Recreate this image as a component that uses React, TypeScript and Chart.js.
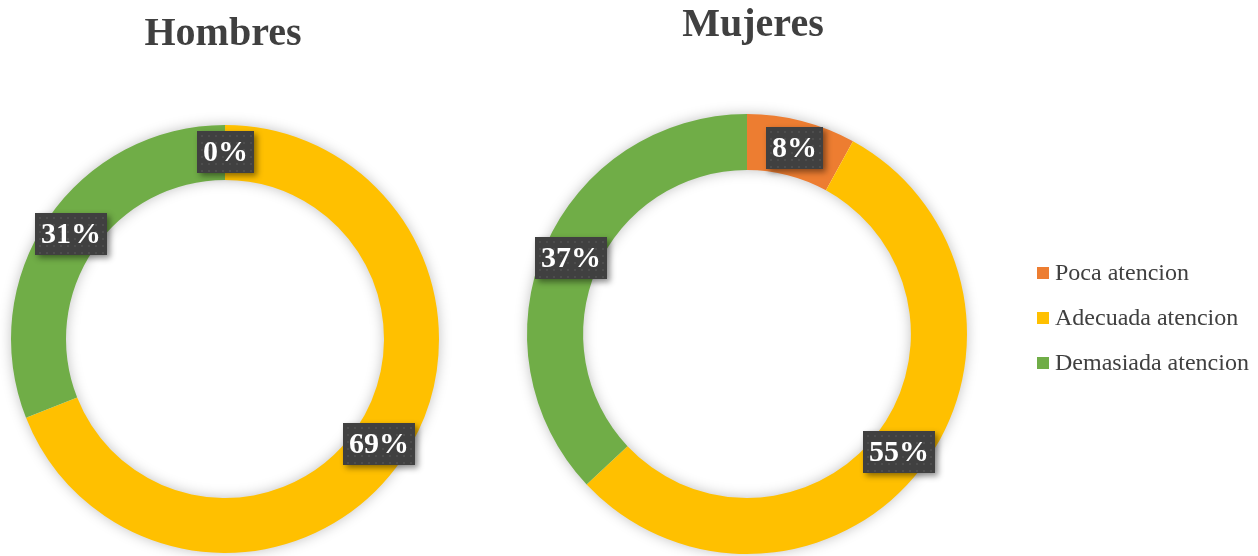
import React, { useEffect, useRef } from "react";
import { Chart, registerables } from "chart.js";

Chart.register(...registerables);

const categories = ["Poca atencion", "Adecuada atencion", "Demasiada atencion"];
const hombresValues = [0, 69, 31];
const mujeresValues = [8, 55, 37];
const sliceColors = ["#ED7D31", "#FFC000", "#70AD47"];
const chartTitles = ["Hombres", "Mujeres"];

const SERIF = '"Liberation Serif", "Times New Roman", serif';

type Opts = {
  title: string;
  titleX: number;
  titleY: number;
  legend: boolean;
  legendX: number;
  legendY: number;
};

function makePlugin(o: Opts) {
  return {
    id: "customDecor",
    beforeDatasetsDraw(chart: any) {
      const ctx = chart.ctx;
      const meta = chart.getDatasetMeta(0);
      const arc = meta.data[0];
      if (!arc) return;
      const { x, y, outerRadius, innerRadius } = arc.getProps(
        ["x", "y", "outerRadius", "innerRadius"],
        true
      );
      ctx.save();
      ctx.beginPath();
      ctx.arc(x, y, outerRadius - 1, 0, Math.PI * 2);
      ctx.moveTo(x + innerRadius + 1, y);
      ctx.arc(x, y, innerRadius + 1, 0, Math.PI * 2, true);
      ctx.closePath();
      ctx.shadowColor = "rgba(0,0,0,0.28)";
      ctx.shadowBlur = 14;
      ctx.fillStyle = "#ffffff";
      ctx.fill();
      ctx.restore();
    },
    afterDatasetsDraw(chart: any) {
      const ctx = chart.ctx;
      const meta = chart.getDatasetMeta(0);
      const data = chart.data.datasets[0].data as number[];
      meta.data.forEach((arc: any, i: number) => {
        const { x, y, startAngle, endAngle, outerRadius, innerRadius } = arc.getProps(
          ["x", "y", "startAngle", "endAngle", "outerRadius", "innerRadius"],
          true
        );
        const mid = (startAngle + endAngle) / 2;
        const r = (outerRadius + innerRadius) / 2;
        const cx = x + Math.cos(mid) * r;
        const cy = y + Math.sin(mid) * r;
        const text = `${data[i]}%`;
        ctx.save();
        ctx.font = `bold 30px ${SERIF}`;
        const tw = ctx.measureText(text).width;
        const w = Math.round(tw + 12);
        const h = 42;
        const bx = Math.round(cx - w / 2);
        const by = Math.round(cy - h / 2);
        ctx.shadowColor = "rgba(0,0,0,0.45)";
        ctx.shadowBlur = 6;
        ctx.shadowOffsetX = 3;
        ctx.shadowOffsetY = 3;
        ctx.fillStyle = "#404040";
        ctx.fillRect(bx, by, w, h);
        ctx.shadowColor = "transparent";
        ctx.shadowBlur = 0;
        ctx.shadowOffsetX = 0;
        ctx.shadowOffsetY = 0;
        ctx.fillStyle = "rgba(255,255,255,0.07)";
        for (let dx = 4; dx < w - 1; dx += 7) {
          for (let dy = 4; dy < h - 1; dy += 7) {
            ctx.fillRect(bx + dx, by + dy, 2, 2);
          }
        }
        ctx.fillStyle = "#ffffff";
        ctx.textAlign = "center";
        ctx.textBaseline = "middle";
        ctx.fillText(text, bx + w / 2, by + h / 2 + 1);
        ctx.restore();
      });
    },
    afterDraw(chart: any) {
      const ctx = chart.ctx;
      ctx.save();
      ctx.font = `bold 40px ${SERIF}`;
      ctx.fillStyle = "#404040";
      ctx.textAlign = "center";
      ctx.textBaseline = "alphabetic";
      ctx.fillText(o.title, o.titleX, o.titleY);
      if (o.legend) {
        ctx.font = `24px ${SERIF}`;
        ctx.textAlign = "left";
        ctx.textBaseline = "middle";
        categories.forEach((c, i) => {
          const ly = o.legendY + i * 45;
          ctx.fillStyle = sliceColors[i];
          ctx.fillRect(o.legendX, ly - 6, 12, 12);
          ctx.fillStyle = "#404040";
          ctx.fillText(c, o.legendX + 18, ly + 1);
        });
      }
      ctx.restore();
    },
  };
}

function Donut(props: {
  values: number[];
  left: number;
  width: number;
  padding: { left: number; right: number; top: number; bottom: number };
  cutout: string;
  opts: Opts;
}) {
  const ref = useRef<HTMLCanvasElement | null>(null);
  useEffect(() => {
    if (!ref.current) return;
    const chart = new Chart(ref.current, {
      type: "doughnut",
      data: {
        labels: categories,
        datasets: [
          {
            data: props.values,
            backgroundColor: sliceColors,
            borderWidth: 0,
          },
        ],
      },
      options: {
        responsive: false,
        animation: false,
        devicePixelRatio: 1,
        cutout: props.cutout,
        layout: { padding: props.padding },
        plugins: {
          legend: { display: false },
          title: { display: false },
          tooltip: { enabled: false },
        },
        events: [],
      },
      plugins: [makePlugin(props.opts)],
    });
    return () => chart.destroy();
  }, []);
  return (
    <canvas
      ref={ref}
      width={props.width}
      height={556}
      style={{ position: "absolute", left: props.left, top: 0, width: props.width, height: 556 }}
    />
  );
}

export default function App() {
  return (
    <div
      style={{
        position: "fixed",
        left: 0,
        top: 0,
        width: 1258,
        height: 556,
        background: "#ffffff",
        overflow: "hidden",
      }}
    >
      <Donut
        values={hombresValues}
        left={0}
        width={480}
        padding={{ left: 11, right: 41, top: 125, bottom: 3 }}
        cutout="74.3%"
        opts={{ title: chartTitles[0], titleX: 223, titleY: 45, legend: false, legendX: 0, legendY: 0 }}
      />
      <Donut
        values={mujeresValues}
        left={480}
        width={778}
        padding={{ left: 47, right: 291, top: 114, bottom: 2 }}
        cutout="74.5%"
        opts={{ title: chartTitles[1], titleX: 273, titleY: 36, legend: true, legendX: 557, legendY: 273 }}
      />
    </div>
  );
}
